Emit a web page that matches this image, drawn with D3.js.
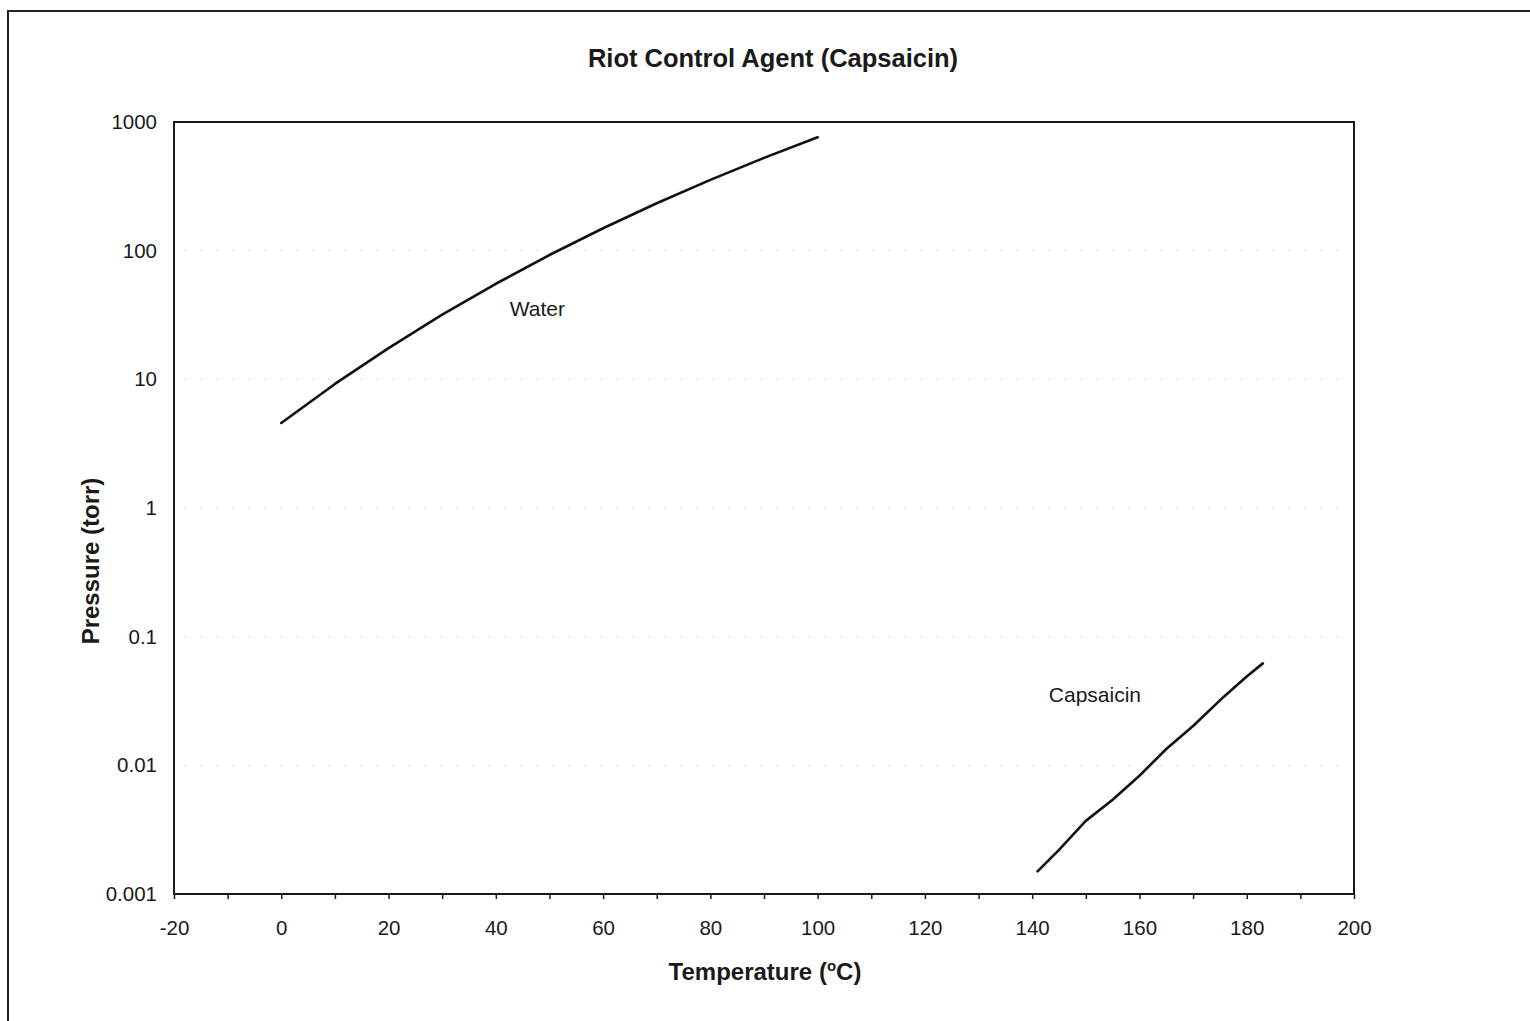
<!DOCTYPE html>
<html>
<head>
<meta charset="utf-8">
<script src="https://cdn.jsdelivr.net/npm/d3@7"></script>
<style>
  html, body { margin: 0; padding: 0; background: #fff; }
  svg { display: block; }
  text { font-family: "Liberation Sans", Arial, sans-serif; fill: #1a1a1a; }
</style>
</head>
<body>
<svg id="chart" width="1530" height="1021"></svg>
<script>
// ---- Data ----
const chartTitle = "Riot Control Agent (Capsaicin)";
const xTitle = "Temperature (";
const yTitle = "Pressure (torr)";

const waterTemps = [0, 10, 20, 30, 40, 50, 60, 70, 80, 90, 100];
const waterPressure = [4.58, 9.21, 17.5, 31.8, 55.3, 92.5, 149.4, 233.7, 355.1, 525.8, 760];

const capsTemps = [141, 145, 150, 155, 160, 165, 170, 175, 180, 183];
const capsPressure = [0.0015, 0.0022, 0.0037, 0.0054, 0.0083, 0.0134, 0.0202, 0.032, 0.049, 0.062];

const xTickValues = [-20, 0, 20, 40, 60, 80, 100, 120, 140, 160, 180, 200];
const xMinorTicks = [-20, -10, 0, 10, 20, 30, 40, 50, 60, 70, 80, 90, 100, 110, 120, 130, 140, 150, 160, 170, 180, 190, 200];
const yTickValues = [0.001, 0.01, 0.1, 1, 10, 100, 1000];
const yTickLabels = ["0.001", "0.01", "0.1", "1", "10", "100", "1000"];

const seriesLabels = [
  { name: "Water", t: 42.6, p: 31 },
  { name: "Capsaicin", t: 143.1, p: 0.0308 }
];

// ---- Layout ----
const svg = d3.select("#chart");
const plot = { left: 174, top: 122, right: 1354, bottom: 894 };

const x = d3.scaleLinear().domain([-20, 200]).range([plot.left, plot.right]);
const y = d3.scaleLog().domain([0.001, 1000]).range([plot.bottom, plot.top]);

// outer frame (extends beyond the right/bottom edge as in the scan)
svg.append("rect")
  .attr("x", 8).attr("y", 11).attr("width", 1540).attr("height", 1040)
  .attr("fill", "none").attr("stroke", "#222").attr("stroke-width", 2);

// faint gridlines (scan remnants)
svg.append("g").selectAll("line")
  .data(yTickValues.slice(1, -1))
  .join("line")
  .attr("x1", plot.left + 10).attr("x2", plot.right - 10)
  .attr("y1", d => y(d)).attr("y2", d => y(d))
  .attr("stroke", "#d4d4d4").attr("stroke-width", 1)
  .attr("stroke-dasharray", "2,14");

// plot frame
svg.append("rect")
  .attr("x", plot.left).attr("y", plot.top)
  .attr("width", plot.right - plot.left).attr("height", plot.bottom - plot.top)
  .attr("fill", "none").attr("stroke", "#1a1a1a").attr("stroke-width", 2);

// x axis with minor ticks
const xAxisMinor = d3.axisBottom(x).tickValues(xMinorTicks).tickSize(5).tickFormat("");
const gxm = svg.append("g").attr("transform", `translate(0,${plot.bottom})`).call(xAxisMinor);
gxm.select(".domain").remove();
gxm.selectAll("line").attr("stroke", "#1a1a1a").attr("stroke-width", 1.5);

const xAxis = d3.axisBottom(x).tickValues(xTickValues).tickSize(0).tickPadding(26)
  .tickFormat(d => String(d));
const gx = svg.append("g").attr("transform", `translate(0,${plot.bottom})`).call(xAxis);
gx.select(".domain").remove();
gx.selectAll("text")
  .style("font-family", "'Liberation Sans', Arial, sans-serif")
  .style("font-size", "20.5px").attr("fill", "#1a1a1a");

// y axis
const yAxis = d3.axisLeft(y).tickValues(yTickValues).tickSize(0).tickPadding(17)
  .tickFormat((d, i) => yTickLabels[i]);
const gy = svg.append("g").attr("transform", `translate(${plot.left},0)`).call(yAxis);
gy.select(".domain").remove();
gy.selectAll("text")
  .style("font-family", "'Liberation Sans', Arial, sans-serif")
  .style("font-size", "20.5px").attr("fill", "#1a1a1a");

// lines
const line = d3.line().x(d => x(d[0])).y(d => y(d[1]));
const waterData = waterTemps.map((t, i) => [t, waterPressure[i]]);
const capsData = capsTemps.map((t, i) => [t, capsPressure[i]]);

[waterData, capsData].forEach(data => {
  svg.append("path").datum(data)
    .attr("d", line)
    .attr("fill", "none").attr("stroke", "#111")
    .attr("stroke-width", 2.6).attr("stroke-linejoin", "round").attr("stroke-linecap", "round");
});

// series labels
svg.append("g").selectAll("text")
  .data(seriesLabels)
  .join("text")
  .attr("x", d => x(d.t)).attr("y", d => y(d.p))
  .style("font-size", "21px")
  .text(d => d.name);

// titles
svg.append("text")
  .attr("x", 773).attr("y", 67)
  .attr("text-anchor", "middle")
  .style("font-size", "25.5px").style("font-weight", "bold")
  .text(chartTitle);

const xt = svg.append("text")
  .attr("x", 765).attr("y", 980)
  .attr("text-anchor", "middle")
  .style("font-size", "24px").style("font-weight", "bold");
xt.append("tspan").text(xTitle);
xt.append("tspan").attr("dy", -9).style("font-size", "15px").text("o");
xt.append("tspan").attr("dy", 9).text("C)");

svg.append("text")
  .attr("transform", `translate(99,561) rotate(-90)`)
  .attr("text-anchor", "middle")
  .style("font-size", "24px").style("font-weight", "bold")
  .text(yTitle);
</script>
</body>
</html>
